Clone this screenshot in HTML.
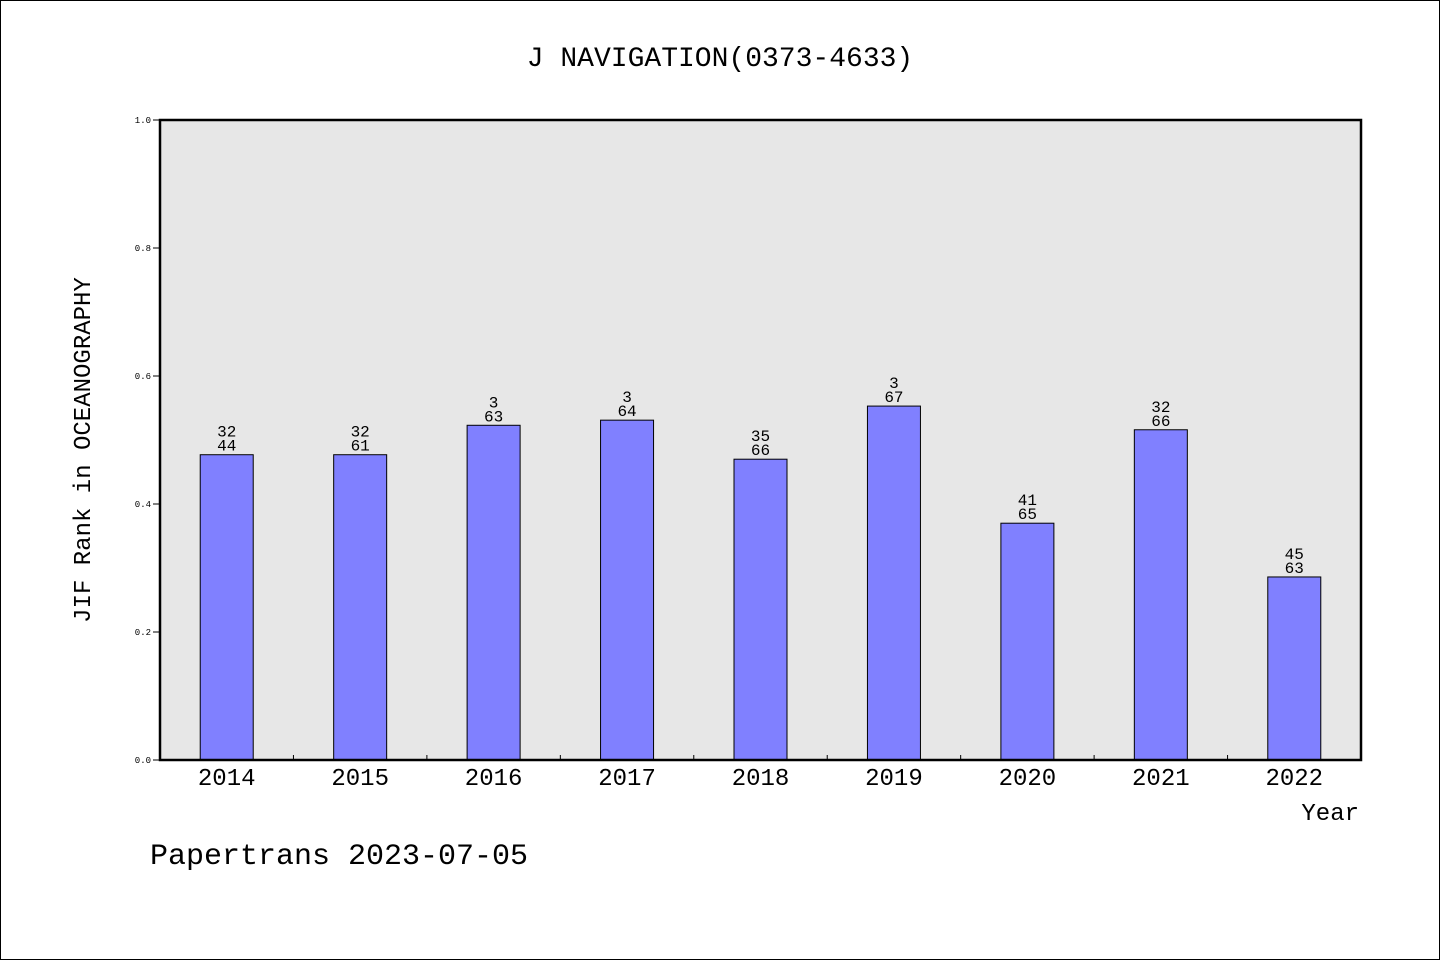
<!DOCTYPE html>
<html><head><meta charset="utf-8"><style>
body{margin:0;background:#fff}
svg{display:block;font-family:"WenQuanYi Zen Hei","Liberation Mono",monospace}
</style></head><body>
<svg id="c" width="1440" height="960">
<rect x="0.5" y="0.5" width="1439" height="959" fill="#fff" stroke="#000"/>
<text x="720" y="66" text-anchor="middle" font-size="28">J NAVIGATION(0373-4633)</text>
<rect x="160" y="120" width="1201" height="640" fill="#e7e7e7"/>
<g id="bars"></g>
<rect x="160" y="120" width="1201" height="640" fill="none" stroke="#000" stroke-width="2.5"/>
<text transform="translate(90,450) rotate(-90)" text-anchor="middle" font-size="24">JIF Rank in OCEANOGRAPHY</text>
<text x="1359" y="820" text-anchor="end" font-size="24">Year</text>
<text x="150" y="864" font-size="30">Papertrans 2023-07-05</text>
</svg>
<script>
const categories=["2014","2015","2016","2017","2018","2019","2020","2021","2022"];
const values=[0.477,0.477,0.523,0.531,0.470,0.553,0.370,0.516,0.286];
const ranks=["32","32","3","3","35","3","41","32","45"];
const totals=["44","61","63","64","66","67","65","66","63"];
const yTicks=[0,0.2,0.4,0.6,0.8,1.0];
const X0=160,W=1201,Y0=760,H=640;
const band=W/categories.length;
const y=v=>Y0-v*H;
const xc=i=>X0+band*(i+0.5);
const svg=document.getElementById('c');
const g=document.getElementById('bars');
const NS='http://www.w3.org/2000/svg';
function mk(t,a,p){const e=document.createElementNS(NS,t);for(const k in a)e.setAttribute(k,a[k]);(p||svg).appendChild(e);return e;}
categories.forEach((c,i)=>{
 const b=mk('rect',{x:xc(i)-26.5,y:y(values[i]),width:53,height:Y0-y(values[i]),fill:'#8080ff',stroke:'#000','stroke-width':1},g);
 
 
 const t1=mk('text',{x:xc(i),y:y(values[i])-18,'text-anchor':'middle','font-size':16});t1.textContent=ranks[i];
 
 
 const t2=mk('text',{x:xc(i),y:y(values[i])-4,'text-anchor':'middle','font-size':16});t2.textContent=totals[i];
 
 
 const xl=mk('text',{x:xc(i),y:785,'text-anchor':'middle','font-size':24});xl.textContent=c;
 
 
 if(i>0){const tk=mk('line',{x1:X0+band*i,x2:X0+band*i,y1:Y0,y2:Y0-5,stroke:'#000'});
 
 }
});
yTicks.forEach(v=>{
 const l=mk('line',{x1:153,x2:160,y1:y(v),y2:y(v),stroke:'#000'});
 
 
 const t=mk('text',{x:151,y:y(v)+3,'text-anchor':'end','font-size':9});t.textContent=v.toFixed(1);
 
 
});
</script>
</body></html>
